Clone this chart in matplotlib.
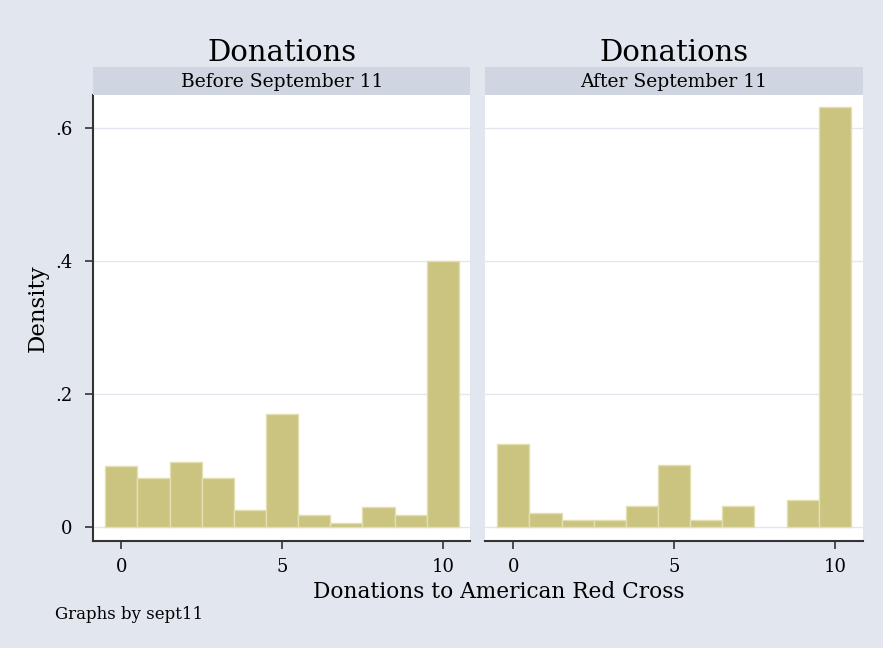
import matplotlib
matplotlib.use("Agg")
import matplotlib.pyplot as plt
import numpy as np

# Donation amounts (bins of width 1 centred on 0..10) and densities
amounts = [0, 1, 2, 3, 4, 5, 6, 7, 8, 9, 10]
density_before = [0.091, 0.074, 0.098, 0.074, 0.025, 0.170, 0.018, 0.005, 0.029, 0.018, 0.400]
density_after = [0.124, 0.021, 0.010, 0.010, 0.031, 0.093, 0.010, 0.031, 0.0, 0.040, 0.632]
panel_titles = ["Before September 11", "After September 11"]
y_ticks = [0, 0.2, 0.4, 0.6]
y_tick_labels = ["0", ".2", ".4", ".6"]
x_ticks = [0, 5, 10]

bg = "#e1e6ef"
strip_col = "#d0d6e1"
bar_col = "#cbc480"
bar_edge = "#e3dfb0"
grid_col = "#e1e6ef"
serif = ["DejaVu Serif"]

fig = plt.figure(figsize=(8.83, 6.48), dpi=100, facecolor=bg)

panels = [(0.1053, density_before), (0.5493, density_after)]
for i, (left, dens) in enumerate(panels):
    ax = fig.add_axes([left, 0.165, 0.4275, 0.6884])
    ax.set_facecolor("white")
    edges = [bar_edge if d > 0 else "none" for d in dens]
    ax.bar(amounts, dens, width=1.0, color=bar_col, edgecolor=edges, linewidth=1.0, zorder=2)
    ax.set_xlim(-0.88, 10.86)
    ax.set_ylim(-0.0216, 0.65)
    ax.set_yticks(y_ticks)
    ax.grid(axis="y", color=grid_col, linewidth=1.0, zorder=0)
    ax.set_xticks(x_ticks)
    ax.set_xticklabels([str(t) for t in x_ticks], family=serif, fontsize=13)
    ax.tick_params(axis="x", length=6, width=1.2, color="#333333", pad=6)
    for s in ["top", "right"]:
        ax.spines[s].set_visible(False)
    ax.spines["bottom"].set_color("#333333")
    ax.spines["bottom"].set_linewidth(1.5)
    if i == 0:
        ax.set_yticklabels(y_tick_labels, family=serif, fontsize=13)
        ax.tick_params(axis="y", length=6, width=1.2, color="#333333", pad=9)
        ax.spines["left"].set_color("#333333")
        ax.spines["left"].set_linewidth(1.5)
    else:
        ax.spines["left"].set_visible(False)
        ax.tick_params(axis="y", length=0, labelleft=False)

    # strip with the group label
    strip = fig.add_axes([left, 0.8534, 0.4275, 0.0437])
    strip.set_facecolor(strip_col)
    strip.set_xticks([])
    strip.set_yticks([])
    for s in strip.spines.values():
        s.set_visible(False)
    strip.text(0.5, 0.45, panel_titles[i], ha="center", va="center",
               family=serif, fontsize=13.5, transform=strip.transAxes)

    fig.text(left + 0.4275 / 2, 0.918, "Donations", ha="center", va="center",
             family=serif, fontsize=21)

fig.text(0.043, 0.525, "Density", rotation=90, ha="center", va="center",
         family=serif, fontsize=16.5)
fig.text(0.565, 0.086, "Donations to American Red Cross", ha="center", va="center",
         family=serif, fontsize=15.6)
fig.text(0.062, 0.052, "Graphs by sept11", ha="left", va="center",
         family=serif, fontsize=12)

fig.savefig("out.png", dpi=100, facecolor=bg)
